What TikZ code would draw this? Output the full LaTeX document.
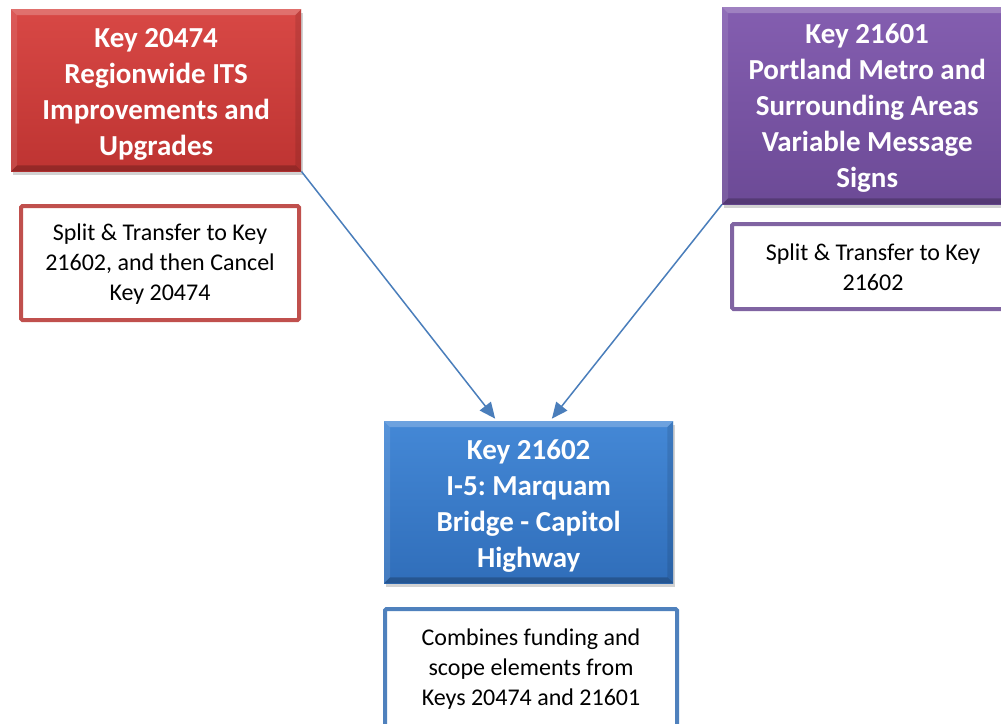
\documentclass[tikz,border=0pt]{standalone}
\usepackage{fontspec}
\setmainfont{Carlito}
\usetikzlibrary{arrows.meta,shadows,calc}
\definecolor{redtop}{RGB}{216,72,69}
\definecolor{redbot}{RGB}{190,52,50}
\definecolor{purtop}{RGB}{132,94,176}
\definecolor{purbot}{RGB}{108,74,150}
\definecolor{blutop}{RGB}{68,136,214}
\definecolor{blubot}{RGB}{48,110,186}
\definecolor{redline}{RGB}{192,80,77}
\definecolor{purline}{RGB}{128,100,162}
\definecolor{bluline}{RGB}{79,129,189}
\definecolor{arrowcol}{RGB}{74,126,187}
\tikzset{
  titlebox/.style={anchor=north west, inner sep=0pt, align=center, text=white,
    font=\fontsize{29}{36}\selectfont\bfseries,
    drop shadow={opacity=0.35, shadow xshift=2pt, shadow yshift=-4pt}},
  notebox/.style={anchor=north west, inner sep=0pt, align=center, fill=white,
    line width=4pt, rounded corners=1.5pt, text=black,
    font=\fontsize{24}{30}\selectfont},
  conn/.style={draw=arrowcol, line width=1.5pt,
    -{Triangle[length=16pt,width=14pt]}, shorten >=3pt}
}
\newcommand\mybevel[1]{%
  \fill[white,opacity=0.22] (#1.north west) -- (#1.north east) -- ($(#1.north east)+(-6,6)$) -- ($(#1.north west)+(6,6)$) -- cycle;
  \fill[white,opacity=0.10] (#1.north west) -- ($(#1.north west)+(6,6)$) -- ($(#1.south west)+(6,-6)$) -- (#1.south west) -- cycle;
  \fill[black,opacity=0.10] (#1.north east) -- ($(#1.north east)+(-6,6)$) -- ($(#1.south east)+(-6,-6)$) -- (#1.south east) -- cycle;
  \fill[black,opacity=0.22] (#1.south west) -- ($(#1.south west)+(6,-6)$) -- ($(#1.south east)+(-6,-6)$) -- (#1.south east) -- cycle;
}
\begin{document}
\begin{tikzpicture}[x=1pt,y=-1pt]
\clip (0,0) rectangle (1001,723);
\useasboundingbox (0,0) rectangle (1001,723);
\fill[white] (0,0) rectangle (1001,723);
\frenchspacing

% title boxes
\node[titlebox, top color=redtop, bottom color=redbot,
      minimum width=290pt, minimum height=162pt] (k20474) at (11,9)
  {\rule{0pt}{27pt}Key 20474\\Regionwide ITS\\Improvements and\\Upgrades};
\node[titlebox, top color=purtop, bottom color=purbot,
      minimum width=290pt, minimum height=197pt] (k21601) at (722,7)
  {\rule{0pt}{25pt}Key 21601\\Portland Metro and\\Surrounding Areas\\Variable Message\\Signs};
\node[titlebox, top color=blutop, bottom color=blubot,
      minimum width=289pt, minimum height=162pt] (k21602) at (384,421)
  {\rule{0pt}{27pt}Key 21602\\I-5: Marquam\\Bridge - Capitol\\Highway};
\mybevel{k20474}
\mybevel{k21601}
\mybevel{k21602}

% note boxes
\node[notebox, draw=redline, minimum width=278pt, minimum height=114pt] (n20474) at (19,204)
  {\rule{0pt}{18pt}Split \& Transfer to Key\\21602, and then Cancel\\Key 20474};
\node[notebox, draw=purline, minimum width=282pt, minimum height=85pt] (n21601) at (730,222)
  {\rule{0pt}{18pt}Split \& Transfer to Key\\21602};
\node[notebox, draw=bluline, minimum width=292pt, minimum height=118pt] (n21602) at (383,607)
  {\rule{0pt}{19pt}Combines funding and\\scope elements from\\Keys 20474 and 21601};

% connectors
\coordinate (inA) at ($(k21602.north west)+(113,0)$);
\coordinate (inB) at ($(k21602.north west)+(166,0)$);
\draw[conn] (k20474.south east) -- (inA);
\draw[conn] (k21601.south west) -- (inB);
\end{tikzpicture}
\end{document}
